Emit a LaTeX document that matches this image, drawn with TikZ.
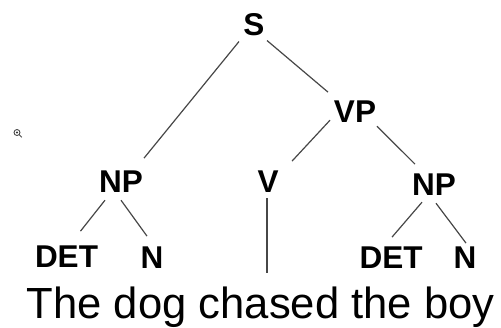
\documentclass[tikz,border=0pt]{standalone}
\usepackage{fontspec}
\setmainfont{Liberation Sans}
\usetikzlibrary{calc}
\tikzset{
  lab/.style={inner sep=0pt, anchor=base, font=\fontsize{31.5bp}{36bp}\selectfont\bfseries},
  sent/.style={inner sep=0pt, anchor=base west, font=\fontsize{43.6bp}{50bp}\selectfont},
  edge/.style={line width=1.2bp, draw=black!72},
}
\begin{document}
\begin{tikzpicture}[x=1bp,y=-1bp]
\useasboundingbox (0,0) rectangle (501,327);
% nodes (x = centre, y = baseline, in pixels from top-left)
\node[lab] (S)    at (254,35)  {S};
\node[lab] (VP)   at (355,122) {VP};
\node[lab] (NPl)  at (121,192) {NP};
\node[lab] (V)    at (268,192) {V};
\node[lab] (NPr)  at (434,195) {NP};
\node[lab] (DETl) at (66.5,267) {DET};
\node[lab] (Nl)   at (152,268) {N};
\node[lab] (DETr) at (391,268) {DET};
\node[lab] (Nr)   at (465,268) {N};
\node[sent] (words) at (26.5,318) {The dog chased the boy};
\coordinate (vend) at (267,273);
% connectors
\draw[edge] ($(S.south)+(-15,6)$) -- ($(NPl.north)+(23,-12)$);
\draw[edge] ($(S.south)+(13,5)$) -- ($(VP.north)+(-27,-8)$);
\draw[edge] ($(VP.south)+(-25,-2)$) -- ($(V.north)+(24,-9)$);
\draw[edge] ($(VP.south)+(22,4)$) -- ($(NPr.north)+(-19,-9)$);
\draw[edge] ($(NPl.south)+(-16,8)$) -- ($(DETl.north)+(14,-14)$);
\draw[edge] ($(NPl.south)+(0,8)$) -- ($(Nl.north)+(-5,-10)$);
\draw[edge] ($(NPr.south)+(-12,7)$) -- ($(DETr.north)+(1,-9)$);
\draw[edge] ($(NPr.south)+(2,8)$) -- ($(Nr.north)+(1,-3)$);
\draw[edge] ($(V.south)+(-1,6)$) -- (vend);
% small magnifier icon
\draw[line width=0.8bp, black!80] (17,132.5) circle (3);
\fill[black!80] (17,132.5) circle (1.2);
\draw[line width=1bp, black!70] (19.2,134.7) -- (21.8,137.3);
\end{tikzpicture}
\end{document}
